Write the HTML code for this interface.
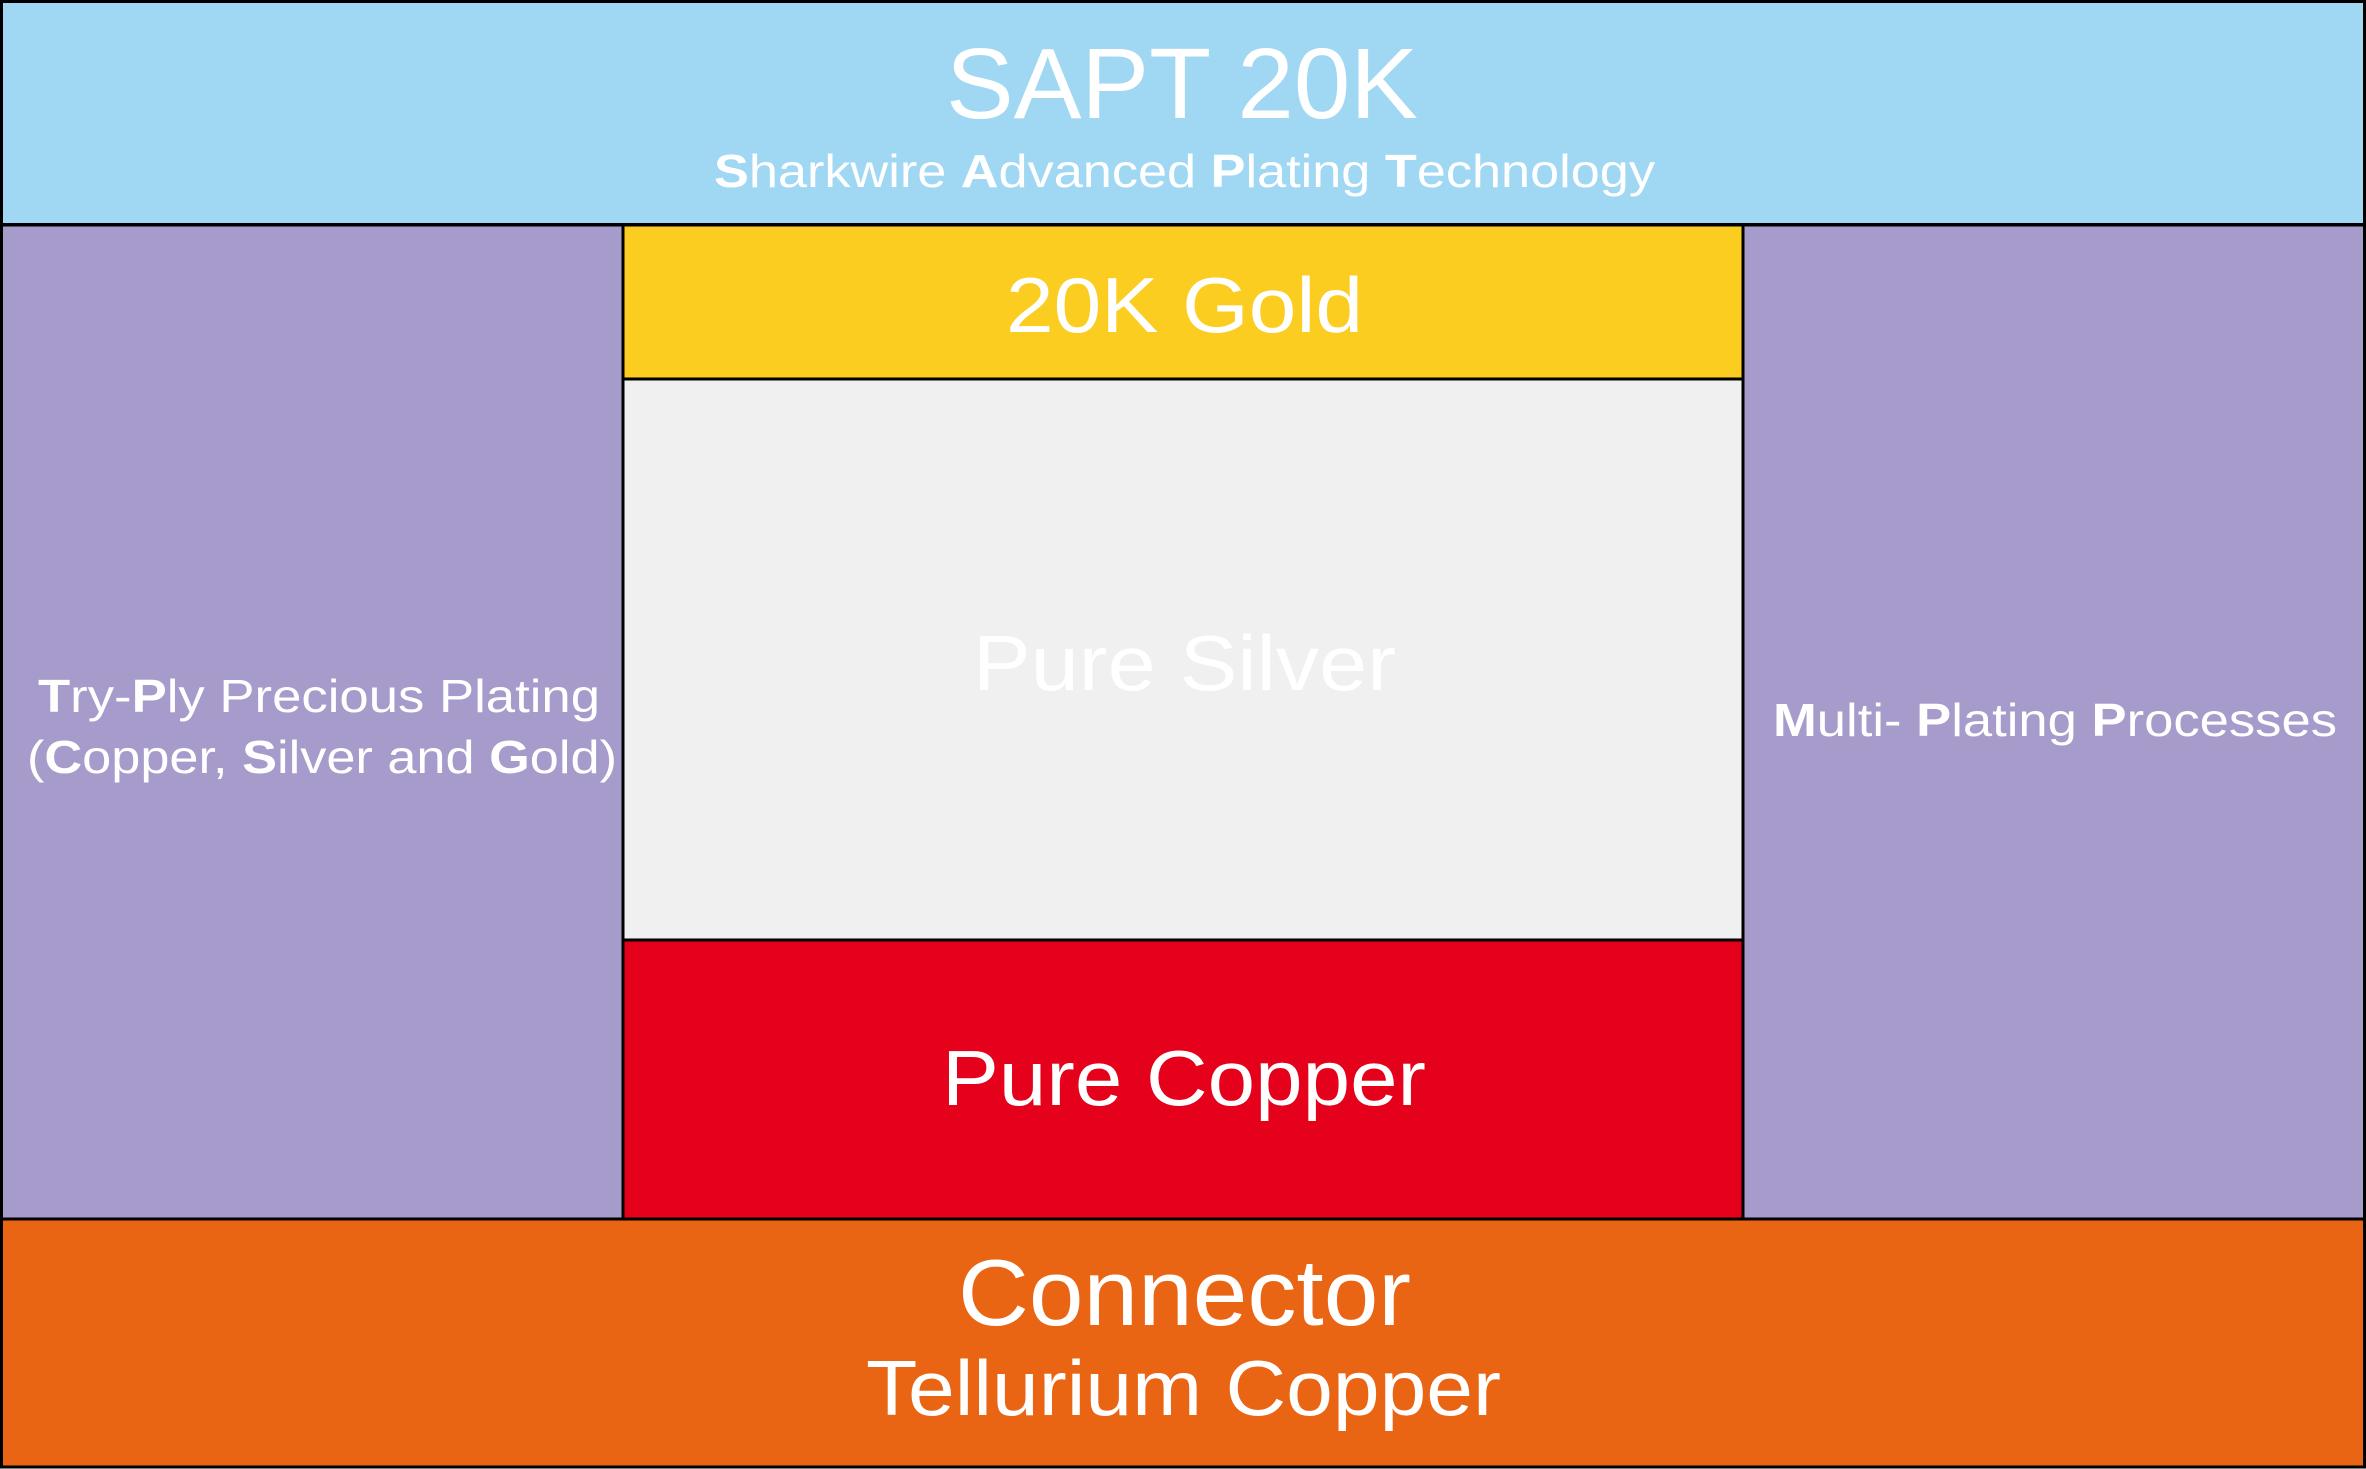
<!DOCTYPE html>
<html><head><meta charset="utf-8"><style>html,body{margin:0;padding:0;background:#fff}svg{display:block}</style></head>
<body>
<svg width="2366" height="1469" viewBox="0 0 2366 1469" xmlns="http://www.w3.org/2000/svg" font-family="Liberation Sans, Arial, sans-serif" fill="#fff">
<rect x="1.5" y="1.5" width="2363" height="223" fill="#a0d8f4" stroke="#000" stroke-width="3"/>
<rect x="1.5" y="225" width="621.5" height="994" fill="#a69bca" stroke="#000" stroke-width="3"/>
<rect x="1743" y="225" width="621.5" height="994" fill="#a69bca" stroke="#000" stroke-width="3"/>
<rect x="623" y="225" width="1120" height="154" fill="#fccd21" stroke="#000" stroke-width="3"/>
<rect x="623" y="379" width="1120" height="561" fill="#f0f0f0" stroke="#000" stroke-width="3"/>
<rect x="623" y="940" width="1120" height="279" fill="#e5001b" stroke="#000" stroke-width="3"/>
<rect x="1.5" y="1219" width="2363" height="248" fill="#e96413" stroke="#000" stroke-width="3"/>
<g fill="#fff">
<text x="946" y="118" font-size="100" textLength="472" lengthAdjust="spacingAndGlyphs">SAPT 20K</text>
<text x="714" y="187" font-size="46" textLength="941" lengthAdjust="spacingAndGlyphs"><tspan font-weight="bold">S</tspan>harkwire <tspan font-weight="bold">A</tspan>dvanced <tspan font-weight="bold">P</tspan>lating <tspan font-weight="bold">T</tspan>echnology</text>
<text x="1006" y="332" font-size="78" textLength="357" lengthAdjust="spacingAndGlyphs">20K  Gold</text>
<text x="973" y="690" font-size="78" textLength="423" lengthAdjust="spacingAndGlyphs">Pure  Silver</text>
<text x="942" y="1105" font-size="78" textLength="484" lengthAdjust="spacingAndGlyphs">Pure  Copper</text>
<text x="958" y="1325" font-size="94" textLength="453" lengthAdjust="spacingAndGlyphs">Connector</text>
<text x="866" y="1415" font-size="78" textLength="635" lengthAdjust="spacingAndGlyphs">Tellurium Copper</text>
<text x="38" y="712" font-size="46" textLength="562" lengthAdjust="spacingAndGlyphs"><tspan font-weight="bold">T</tspan>ry-<tspan font-weight="bold">P</tspan>ly Precious Plating</text>
<text x="27" y="773" font-size="46" textLength="590" lengthAdjust="spacingAndGlyphs">(<tspan font-weight="bold">C</tspan>opper, <tspan font-weight="bold">S</tspan>ilver and <tspan font-weight="bold">G</tspan>old)</text>
<text x="1773" y="736" font-size="46" textLength="564" lengthAdjust="spacingAndGlyphs"><tspan font-weight="bold">M</tspan>ulti- <tspan font-weight="bold">P</tspan>lating <tspan font-weight="bold">P</tspan>rocesses</text>
</g>
</svg>
</body></html>
